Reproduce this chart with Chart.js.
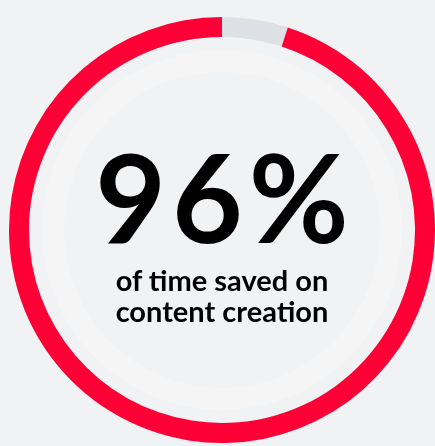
<!DOCTYPE html>
<html>
<head>
<meta charset="utf-8">
<script src="https://cdn.jsdelivr.net/npm/chart.js@4"></script>
<style>
  html, body { margin: 0; padding: 0; background: #f1f2f4; }
  .wrap { position: relative; width: 435px; height: 446px; overflow: hidden; }
  .big {
    position: absolute; left: 0; width: 444px; top: 135px;
    text-align: center; font-family: Lato, sans-serif; font-weight: 700;
    font-size: 122px; line-height: 122px; color: #000;
    letter-spacing: 6px; text-indent: 6px;
  }
  .sub {
    position: absolute; left: 0; width: 444px; top: 264px;
    text-align: center; font-family: Lato, sans-serif; font-weight: 700;
    font-size: 29px; line-height: 31px; color: #000;
  }
</style>
</head>
<body>
<div class="wrap">
  <canvas id="ring" width="435" height="446"></canvas>
  <div class="big" id="pct"></div>
  <div class="sub">of time saved on<br>content creation</div>
</div>
<script>
// valores lidos do anel: parte cinza no topo, resto vermelho
const segmentLabels = ['Restante', 'Tempo economizado'];
const segmentValues = [5, 95];
const headline = '96%';

document.getElementById('pct').textContent = headline;

const ctx = document.getElementById('ring').getContext('2d');

new Chart(ctx, {
  type: 'doughnut',
  data: {
    labels: segmentLabels,
    datasets: [
      {
        data: segmentValues,
        backgroundColor: ['#dde1e5', '#ff0036'],
        borderWidth: 0,
        weight: 20
      },
      {
        // espaço entre o anel e o halo claro
        data: [1],
        backgroundColor: 'rgba(0,0,0,0)',
        borderWidth: 0,
        weight: 13
      },
      {
        // halo claro por dentro do anel
        data: [1],
        backgroundColor: '#f5f5f6',
        borderWidth: 0,
        weight: 22
      }
    ]
  },
  options: {
    responsive: false,
    animation: false,
    cutout: 158,
    hoverOffset: 0,
    layout: { padding: { left: 9, right: 0, top: 17, bottom: 3 } },
    plugins: {
      legend: { display: false },
      tooltip: { enabled: false }
    }
  }
});
</script>
</body>
</html>
